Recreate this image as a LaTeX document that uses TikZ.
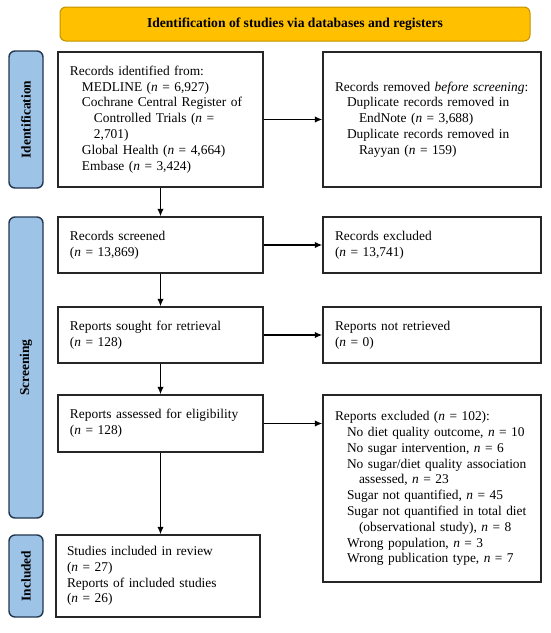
\documentclass[tikz,border=0pt]{standalone}
\usepackage{fontspec}
\setmainfont{Liberation Serif}
\usetikzlibrary{arrows.meta}
\definecolor{banfill}{HTML}{FFC000}
\definecolor{banline}{HTML}{C39200}
\definecolor{barfill}{HTML}{9DC3E6}
\definecolor{barline}{HTML}{22364F}
\newcommand{\nbline}[1]{\mbox{#1}}
\begin{document}
\begin{tikzpicture}[x=1pt,y=-1pt,
  box/.style={draw=black!85, line width=1.4pt, fill=white, align=left,
    inner xsep=12pt, inner ysep=0pt, font=\fontsize{13.4}{15.8}\selectfont},
  banner/.style={draw=banline, fill=banfill, line width=1pt, rounded corners=6pt,
    minimum width=470pt, minimum height=34pt, font=\fontsize{13.6}{15}\selectfont\bfseries},
  bar/.style={draw=barline, fill=barfill, line width=1.4pt, rounded corners=6pt,
    rotate=90, minimum height=34pt, inner sep=0pt, font=\fontsize{13.4}{15}\selectfont\bfseries},
  arr/.style={line width=1.3pt, -{Latex[length=7.5pt,width=6.5pt]}}
]
\useasboundingbox (0,0) rectangle (550,633);
\node[banner] (ban) at (295,24) {Identification of studies via databases and registers};
\node[bar, minimum width=137pt] (bid) at (26,119.5) {Identification};
\node[bar, minimum width=301pt] (bsc) at (26,367.5) {Screening};
\node[bar, minimum width=82pt] (bin) at (26,576) {Included};

\node[box, minimum width=205pt, minimum height=135pt, text width=181pt] (b1) at (160.5,119.5) {%
\nbline{Records identified from:}\\
\hspace*{12pt}\nbline{MEDLINE (\textit{n} = 6,927)}\\
\hspace*{12pt}\nbline{Cochrane Central Register of}\\
\hspace*{24pt}\nbline{Controlled Trials (\textit{n} =}\\
\hspace*{24pt}2,701)\\
\hspace*{12pt}\nbline{Global Health (\textit{n} = 4,664)}\\
\hspace*{12pt}\nbline{Embase (\textit{n} = 3,424)}};
\node[box, minimum width=218pt, minimum height=135pt, text width=194pt] (b2) at (432,119.5) {%
\nbline{Records removed \textit{before screening}:}\\
\hspace*{12pt}\nbline{Duplicate records removed in}\\
\hspace*{24pt}\nbline{EndNote (\textit{n} = 3,688)}\\
\hspace*{12pt}\nbline{Duplicate records removed in}\\
\hspace*{24pt}\nbline{Rayyan (\textit{n} = 159)}};

\node[box, minimum width=205pt, minimum height=56pt, text width=181pt] (scr) at (160.5,245) {%
Records screened\\(\textit{n} = 13,869)};
\node[box, minimum width=218pt, minimum height=56pt, text width=194pt] (exc) at (432,245) {%
Records excluded\\(\textit{n} = 13,741)};

\node[box, minimum width=205pt, minimum height=56pt, text width=181pt] (sou) at (160.5,335) {%
Reports sought for retrieval\\(\textit{n} = 128)};
\node[box, minimum width=218pt, minimum height=56pt, text width=194pt] (nre) at (432,335) {%
Reports not retrieved\\(\textit{n} = 0)};

\node[box, minimum width=205pt, minimum height=57pt, text width=181pt] (ass) at (160.5,423.5) {%
\nbline{Reports assessed for eligibility}\\(\textit{n} = 128)};
\node[box, minimum width=218pt, minimum height=187pt, text width=194pt] (rex) at (432,488.5) {%
\nbline{Reports excluded (\textit{n} = 102):}\\
\hspace*{12pt}\nbline{No diet quality outcome, \textit{n} = 10}\\
\hspace*{12pt}\nbline{No sugar intervention, \textit{n} = 6}\\
\hspace*{12pt}\nbline{No sugar/diet quality association}\\
\hspace*{24pt}\nbline{assessed, \textit{n} = 23}\\
\hspace*{12pt}\nbline{Sugar not quantified, \textit{n} = 45}\\
\hspace*{12pt}\nbline{Sugar not quantified in total diet}\\
\hspace*{24pt}\nbline{(observational study), \textit{n} = 8}\\
\hspace*{12pt}\nbline{Wrong population, \textit{n} = 3}\\
\hspace*{12pt}\nbline{Wrong publication type, \textit{n} = 7}};

\node[box, minimum width=204pt, minimum height=82pt, text width=182pt, inner xsep=11pt] (inc) at (158,576) {%
\nbline{Studies included in review}\\(\textit{n} = 27)\\\nbline{Reports of included studies}\\(\textit{n} = 26)};

\draw[arr] (b1.east) -- (b2.west);
\draw[arr] (scr.east) -- (exc.west);
\draw[arr] (sou.east) -- (nre.west);
\draw[arr] (ass.east) -- (ass.east -| rex.west);
\draw[arr] (b1.south) -- (scr.north);
\draw[arr] (scr.south) -- (sou.north);
\draw[arr] (sou.south) -- (ass.north);
\draw[arr] (ass.south) -- (ass.south |- inc.north);
\end{tikzpicture}
\end{document}
